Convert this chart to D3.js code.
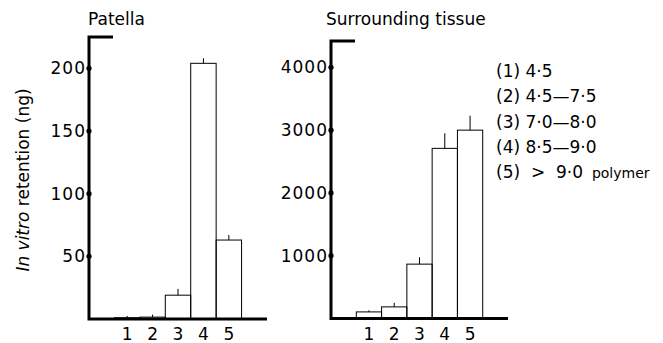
<!DOCTYPE html>
<html>
<head>
<meta charset="utf-8">
<script src="https://cdn.jsdelivr.net/npm/d3@7"></script>
<style>
  body { margin: 0; background: #fff; }
  svg { font-family: 'DejaVu Sans', sans-serif; }
</style>
</head>
<body>
<svg width="663" height="343"></svg>
<script>
const categories = ['1', '2', '3', '4', '5'];
const patellaValues = [1, 1.5, 19, 204, 63];
const patellaErrors = [1.5, 2, 5, 4, 4];
const tissueValues = [105, 185, 866, 2710, 3000];
const tissueErrors = [25, 65, 110, 240, 230];
const patellaTicks = [50, 100, 150, 200];
const tissueTicks = [1000, 2000, 3000, 4000];
const legendLabels = ['(1) 4·5', '(2) 4·5—7·5', '(3) 7·0—8·0', '(4) 8·5—9·0', '(5)  >  9·0'];
const legendSuffix = ['', '', '', '', 'polymer'];

const svg = d3.select('svg');
const fontSize = 17;

function drawPanel(cfg) {
  const g = svg.append('g');
  const x = d3.scaleBand().domain(categories).range([cfg.left, cfg.right]).paddingInner(0).paddingOuter(1);
  const y = d3.scaleLinear().domain([0, cfg.max]).range([cfg.bottom, cfg.top]);
  const data = categories.map((c, i) => ({ c, v: cfg.values[i], e: cfg.errors[i] }));

  // bars
  g.selectAll('rect.bar').data(data).enter().append('rect')
    .attr('x', d => x(d.c))
    .attr('y', d => y(d.v))
    .attr('width', x.bandwidth())
    .attr('height', d => y(0) - y(d.v))
    .attr('fill', 'none')
    .attr('stroke', '#000')
    .attr('stroke-width', 1);

  // error lines
  g.selectAll('line.err').data(data).enter().append('line')
    .attr('x1', d => x(d.c) + x.bandwidth() / 2)
    .attr('x2', d => x(d.c) + x.bandwidth() / 2)
    .attr('y1', d => y(d.v))
    .attr('y2', d => y(d.v + d.e))
    .attr('stroke', '#000')
    .attr('stroke-width', 1);

  // y axis with corner at top
  g.append('path')
    .attr('d', `M${cfg.left + 24},${y(cfg.max)}H${cfg.left}V${y(0)}H${cfg.right}`)
    .attr('fill', 'none')
    .attr('stroke', '#000')
    .attr('stroke-width', 3);

  g.selectAll('circle.tick').data(cfg.ticks).enter().append('circle')
    .attr('cx', cfg.left)
    .attr('cy', d => y(d))
    .attr('r', 2.6)
    .attr('fill', '#000');

  g.selectAll('text.tick').data(cfg.ticks).enter().append('text')
    .attr('x', cfg.left - 3)
    .attr('y', d => y(d))
    .attr('dy', '0.36em')
    .attr('text-anchor', 'end')
    .style('font-size', `${fontSize}px`)
    .style('letter-spacing', '1px')
    .text(d => d);

  g.selectAll('text.cat').data(categories).enter().append('text')
    .attr('x', d => x(d) + x.bandwidth() / 2)
    .attr('y', 340)
    .attr('text-anchor', 'middle')
    .style('font-size', `${fontSize}px`)
    .text(d => d);

  g.append('text')
    .attr('x', cfg.titleX)
    .attr('y', 25)
    .style('font-size', `${fontSize}px`)
    .text(cfg.title);
}

drawPanel({ title: 'Patella', titleX: 88, left: 89, right: 267, top: 37, bottom: 319, max: 225,
  values: patellaValues, errors: patellaErrors, ticks: patellaTicks });
drawPanel({ title: 'Surrounding tissue', titleX: 326, left: 331, right: 508, top: 41, bottom: 318.5, max: 4420,
  values: tissueValues, errors: tissueErrors, ticks: tissueTicks });

// y label
const yl = svg.append('text')
  .attr('transform', 'translate(29,180) rotate(-90)')
  .attr('text-anchor', 'middle')
  .style('font-size', `${fontSize}px`);
yl.append('tspan').style('font-style', 'italic').text('In vitro');
yl.append('tspan').text(' retention (ng)');

// legend
const leg = svg.selectAll('text.legend').data(legendLabels).enter().append('text')
  .attr('x', 496)
  .attr('y', (d, i) => 71 + i * 25.2)
  .attr('dy', '0.36em')
  .style('white-space', 'pre')
  .style('font-size', `${fontSize}px`);
leg.append('tspan').text(d => d);
leg.append('tspan').style('font-size', '14px').text((d, i) => legendSuffix[i] ? '  ' + legendSuffix[i] : '');
</script>
</body>
</html>
